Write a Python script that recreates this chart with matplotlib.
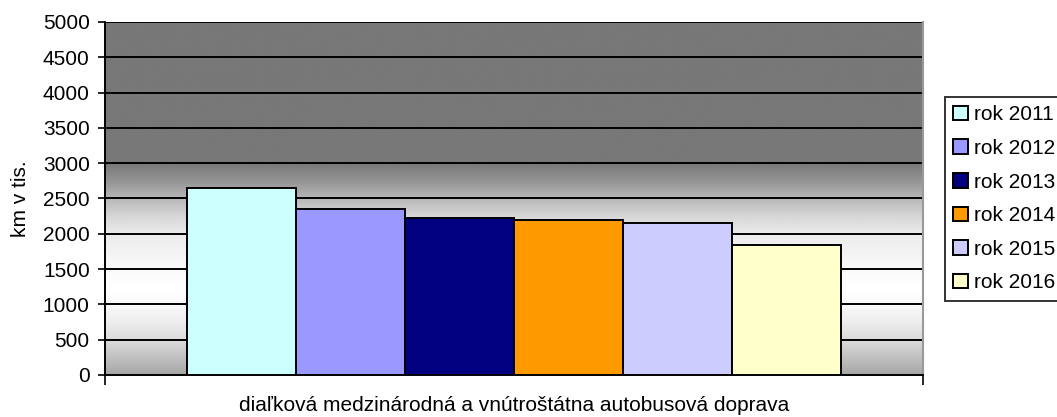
import numpy as np
import matplotlib
matplotlib.use("Agg")
import matplotlib.pyplot as plt
from matplotlib.patches import Patch

plt.rcParams['font.family'] = ['Liberation Sans', 'DejaVu Sans']

category = "diaľková medzinárodná a vnútroštátna autobusová doprava"
years = ["rok 2011", "rok 2012", "rok 2013", "rok 2014", "rok 2015", "rok 2016"]
values = [2646, 2354, 2228, 2194, 2160, 1835]
colors = ["#CCFFFF", "#9999FF", "#000080", "#FF9900", "#CCCCFF", "#FFFFCC"]
yticks = [0, 500, 1000, 1500, 2000, 2500, 3000, 3500, 4000, 4500, 5000]

# background gradient stops (value, gray level)
grad_pos = [0, 250, 500, 750, 1000, 1250, 1500, 2000, 2250, 2500, 2750, 3000, 5000]
grad_lvl = [0.65, 0.76, 0.86, 0.93, 0.98, 1.0, 0.98, 0.92, 0.84, 0.72, 0.58, 0.47, 0.47]

fig = plt.figure(figsize=(10.57, 4.17), dpi=100)
ax = fig.add_axes([105 / 1057, 42 / 417, (923 - 105) / 1057, 353 / 417])

yy = np.linspace(0, 5000, 500)
g = np.interp(yy, grad_pos, grad_lvl)
img = np.repeat(g[:, None], 2, axis=1)
ax.imshow(img, cmap='gray', vmin=0, vmax=1, origin='lower', aspect='auto',
          extent=[-0.5, 0.5, 0, 5000], zorder=0, interpolation='bilinear')

n = len(values)
w = 0.8 / n
for i, (v, c, lab) in enumerate(zip(values, colors, years)):
    x = -0.4 + w * (i + 0.5)
    ax.bar(x, v, width=w, color=c, edgecolor='black', linewidth=1.4, zorder=3, label=lab)

for t in yticks[1:]:
    ax.axhline(t, color='black', linewidth=1.4, zorder=1)

ax.set_xlim(-0.5, 0.5)
ax.set_ylim(0, 5000)
ax.set_yticks(yticks)
ax.tick_params(axis='y', labelsize=15, length=5, width=1.2, direction='out', pad=6)
ax.set_xticks([0])
ax.set_xticklabels([category], fontsize=15)
ax.tick_params(axis='x', which='major', length=0, pad=15)
ax.set_xticks([-0.5, 0.5], minor=True)
ax.tick_params(axis='x', which='minor', length=7, width=1.2, direction='out')

ax.spines['top'].set_visible(False)
ax.spines['right'].set_color('#999999')
ax.spines['right'].set_linewidth(1.5)
ax.spines['left'].set_linewidth(1.4)
ax.spines['bottom'].set_linewidth(1.4)
ax.set_ylabel("km v tis.", fontsize=15, labelpad=9)

handles = [Patch(facecolor=c, edgecolor='black', linewidth=1.4) for c in colors]
leg = fig.legend(handles, years, loc='upper left', bbox_to_anchor=(945 / 1057, 1 - 97 / 417),
                 fontsize=15, frameon=True, fancybox=False, edgecolor='black',
                 handlelength=0.7, handleheight=0.7, handletextpad=0.3,
                 labelspacing=0.7, borderpad=0.4, borderaxespad=0)
leg.get_frame().set_linewidth(1.4)

fig.savefig("out.png", dpi=100)
